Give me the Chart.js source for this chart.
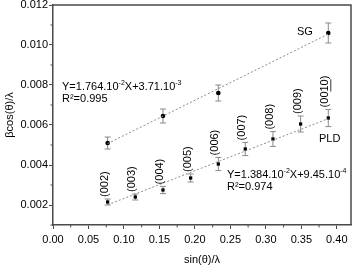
<!DOCTYPE html>
<html><head><meta charset="utf-8">
<script src="https://cdn.jsdelivr.net/npm/chart.js@4"></script>
<style>html,body{margin:0;padding:0;background:#fff}#w{width:356px;height:268px}</style>
</head><body><div id="w"><canvas id="c"></canvas></div>
<script>
const xTickValues = [0, 0.05, 0.10, 0.15, 0.20, 0.25, 0.30, 0.35, 0.40];
const xTickLabels = ['0.00','0.05','0.10','0.15','0.20','0.25','0.30','0.35','0.40'];
const yTickValues = [0.002, 0.004, 0.006, 0.008, 0.010, 0.012];
const yTickLabels = ['0.002','0.004','0.006','0.008','0.010','0.012'];
const xMinor = [0.025,0.075,0.125,0.175,0.225,0.275,0.325,0.375];
const yMinor = [0.001,0.003,0.005,0.007,0.009,0.011];
const xTitle = 'sin(θ)/λ';
const yTitle = 'βcos(θ)/λ';

const sgX = [0.077, 0.155, 0.233, 0.388];
const sgY = [0.0051, 0.00645, 0.0076, 0.0106];
const sgErr = [0.0003, 0.00035, 0.0004, 0.0005];

const pldX = [0.077, 0.116, 0.155, 0.194, 0.233, 0.271, 0.310, 0.349, 0.388];
const pldY = [0.00215, 0.0024, 0.00275, 0.00335, 0.00405, 0.0048, 0.0053, 0.00605, 0.00635];
const pldErr = [0.00015, 0.00015, 0.00018, 0.0002, 0.00033, 0.00033, 0.00037, 0.0004, 0.00043];
const pldLabels = ['(002)','(003)','(004)','(005)','(006)','(007)','(008)','(009)','(0010)'];

const sgFitX = [0.077, 0.388];
const sgFitY = [0.00507, 0.01055];
const pldFitX = [0.077, 0.388];
const pldFitY = [0.00201, 0.00632];

const FONT = '"Liberation Sans", Arial, sans-serif';
const AXC = '#4a4a4a';

function pts(xs, ys){ return xs.map((x,i)=>({x:x, y:ys[i]})); }

const extras = {
  id:'extras',
  beforeDatasetsDraw(chart){
    const {ctx, scales:{x, y}} = chart;
    ctx.save();
    ctx.strokeStyle = '#8a8a8a'; ctx.lineWidth = 1;
    const bars = (xs, ys, es) => xs.forEach((xv,i)=>{
      const px = x.getPixelForValue(xv);
      const t = y.getPixelForValue(ys[i]+es[i]), b = y.getPixelForValue(ys[i]-es[i]);
      ctx.beginPath();
      ctx.moveTo(px, t); ctx.lineTo(px, b);
      ctx.moveTo(px-3, t); ctx.lineTo(px+3, t);
      ctx.moveTo(px-3, b); ctx.lineTo(px+3, b);
      ctx.stroke();
    });
    bars(sgX, sgY, sgErr);
    bars(pldX, pldY, pldErr);
    ctx.restore();
  },
  afterDraw(chart){
    const {ctx, chartArea:a, scales:{x, y}} = chart;
    ctx.save();
    ctx.strokeStyle = AXC; ctx.lineWidth = 1.5;
    ctx.beginPath();
    ctx.moveTo(a.left, a.top); ctx.lineTo(a.right, a.top); ctx.lineTo(a.right, a.bottom);
    ctx.stroke();
    ctx.lineWidth = 1;
    ctx.beginPath();
    xMinor.forEach(v=>{ const px = x.getPixelForValue(v); ctx.moveTo(px, a.bottom); ctx.lineTo(px, a.bottom+2.5); });
    yMinor.forEach(v=>{ const py = y.getPixelForValue(v); ctx.moveTo(a.left, py); ctx.lineTo(a.left-2.5, py); });
    ctx.stroke();
    ctx.fillStyle = '#000';
    ctx.textBaseline = 'middle';
    // axis titles
    ctx.font = '11px ' + FONT;
    ctx.textAlign = 'center';
    ctx.fillText(xTitle, (a.left + a.right)/2, 260);
    ctx.save();
    ctx.translate(10, (a.top + a.bottom)/2);
    ctx.rotate(-Math.PI/2);
    ctx.fillText(yTitle, 0, 0);
    ctx.restore();
    const seg = (parts, x0, y0) => {
      let cx = x0;
      parts.forEach(p=>{
        ctx.font = (p[1] ? '7px ' : '11px ') + FONT;
        ctx.fillText(p[0], cx, y0 + (p[1] ? -4 : 0));
        cx += ctx.measureText(p[0]).width;
      });
    };
    ctx.textAlign = 'left';
    seg([['Y=1.764.10',0],['-2',1],['X+3.71.10',0],['-3',1]], 62, 87);
    seg([['R²=0.995',0]], 62, 99);
    seg([['Y=1.384.10',0],['-2',1],['X+9.45.10',0],['-4',1]], 227, 175);
    seg([['R²=0.974',0]], 227, 187);
    ctx.font = '11px ' + FONT;
    ctx.fillText('SG', 297, 32);
    ctx.fillText('PLD', 319, 139);
    pldX.forEach((xv,i)=>{
      const px = x.getPixelForValue(xv) - 3;
      const py = y.getPixelForValue(pldY[i]+pldErr[i]) - 2;
      ctx.save();
      ctx.translate(px, py);
      ctx.rotate(-Math.PI/2);
      ctx.textAlign = 'left';
      ctx.fillText(pldLabels[i], 0, 0);
      if (pldLabels[i] === '(0010)') {
        const w0 = ctx.measureText('(00').width, w1 = ctx.measureText('(0010').width;
        ctx.strokeStyle = '#000'; ctx.lineWidth = 0.8;
        ctx.beginPath(); ctx.moveTo(w0, 5.5); ctx.lineTo(w1, 5.5); ctx.stroke();
      }
      ctx.restore();
    });
    ctx.restore();
  }
};

new Chart(document.getElementById('c'), {
  type:'scatter',
  data:{ datasets:[
    { label:'SG fit', data: pts(sgFitX, sgFitY), showLine:true, borderColor:'#8a8a8a', borderWidth:1, borderDash:[2,2], pointRadius:0 },
    { label:'PLD fit', data: pts(pldFitX, pldFitY), showLine:true, borderColor:'#8a8a8a', borderWidth:1, borderDash:[2,2], pointRadius:0 },
    { label:'SG', data: pts(sgX, sgY), pointStyle:'circle', pointRadius:2.3, backgroundColor:'#000', borderColor:'#000', borderWidth:0 },
    { label:'PLD', data: pts(pldX, pldY), pointStyle:'rect', pointRadius:2.3, backgroundColor:'#000', borderColor:'#000', borderWidth:0 }
  ]},
  options:{
    responsive:true, maintainAspectRatio:false, animation:false,
    layout:{ padding:{ top:5, right:5, left:0, bottom:0 } },
    plugins:{ legend:{display:false}, tooltip:{enabled:false} },
    scales:{
      x:{
        type:'linear', min:0, max:0.42,
        afterBuildTicks(s){ s.ticks = xTickValues.map(v=>({value:v})); },
        afterFit(s){ s.height = 43; s.paddingLeft=0; s.paddingRight=0; s.paddingTop=0; s.paddingBottom=0; },
        ticks:{ callback:(v,i)=>xTickLabels[i], font:{family:FONT, size:11}, color:'#000', padding:4, maxRotation:0, autoSkip:false },
        grid:{ drawOnChartArea:false, drawTicks:true, tickLength:4, color:AXC, tickWidth:1 },
        border:{ color:AXC, width:1.5 },
        title:{ display:false }
      },
      y:{
        type:'linear', min:0.001, max:0.012,
        afterBuildTicks(s){ s.ticks = yTickValues.map(v=>({value:v})); },
        afterFit(s){ s.width = 53; s.paddingLeft=0; s.paddingRight=0; s.paddingTop=0; s.paddingBottom=0; },
        ticks:{ callback:(v,i)=>yTickLabels[i], font:{family:FONT, size:11}, color:'#000', padding:1, autoSkip:false },
        grid:{ drawOnChartArea:false, drawTicks:true, tickLength:4, color:AXC, tickWidth:1 },
        border:{ color:AXC, width:1.5 },
        title:{ display:false }
      }
    }
  },
  plugins:[extras]
});
</script></body></html>
